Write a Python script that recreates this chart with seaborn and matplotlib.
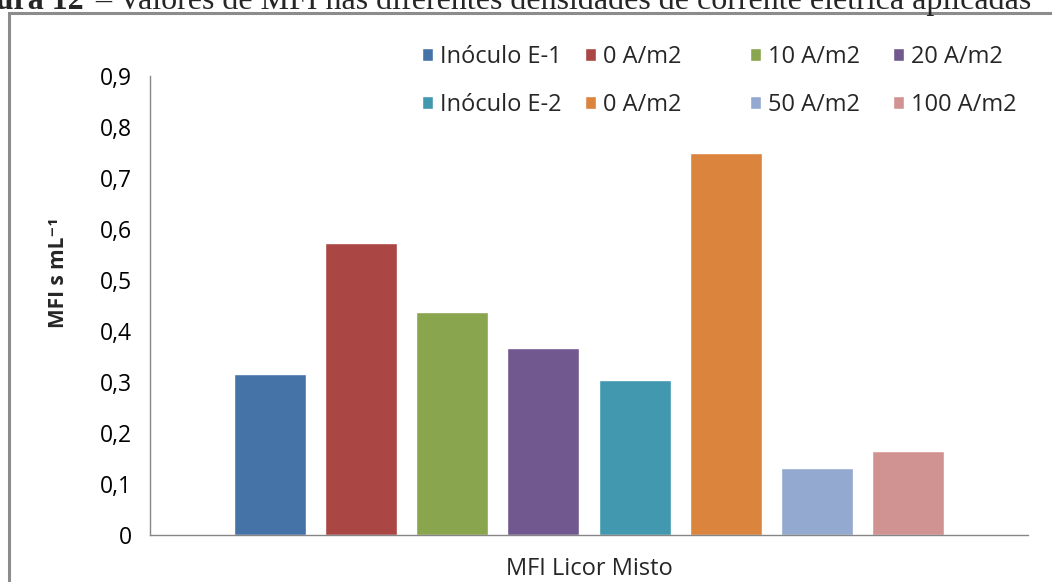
import matplotlib
matplotlib.use("Agg")
import matplotlib.pyplot as plt
from matplotlib.patches import Rectangle
from matplotlib.legend import Legend
from matplotlib.ticker import FuncFormatter
import pandas as pd
import seaborn as sns

# series keys (unique), legend labels and MFI values
series = ["Inóculo E-1", "0 A/m2 (E-1)", "10 A/m2", "20 A/m2",
          "Inóculo E-2", "0 A/m2 (E-2)", "50 A/m2", "100 A/m2"]
labels = ["Inóculo E-1", "0 A/m2", "10 A/m2", "20 A/m2",
          "Inóculo E-2", "0 A/m2", "50 A/m2", "100 A/m2"]
mfi = [0.316, 0.573, 0.437, 0.367, 0.304, 0.749, 0.131, 0.165]
colors = ["#4572A7", "#AA4643", "#89A54E", "#71588F",
          "#4198AF", "#DB843D", "#93A9CF", "#D19392"]

df = pd.DataFrame({"serie": series, "mfi": mfi})

sns.set_style("white")
plt.rcParams["font.family"] = ["Open Sans", "DejaVu Sans"]
FS = 17

fig = plt.figure(figsize=(10.52, 5.82), dpi=100)
W, H = 1052, 582
ax = fig.add_axes([150 / W, 1 - 535 / H, (1028 - 150) / W, (535 - 76) / H])

sns.barplot(data=df, x="serie", y="mfi", hue="serie", order=series,
            hue_order=series, palette=colors, width=0.79, legend=False,
            saturation=1, ax=ax)

ax.set_ylim(0, 0.9)
ax.set_xlim(-1.31, 8.31)
ax.set_yticks([i / 10 for i in range(10)])
ax.yaxis.set_major_formatter(FuncFormatter(
    lambda v, p: "0" if abs(v) < 1e-9 else f"{v:.1f}".replace(".", ",")))
ax.set_xticks([-1.31, 8.31])
ax.set_xticklabels(["", ""])
ax.tick_params(axis="both", direction="out", length=6, width=1,
               color="#868686", labelsize=FS - 0.5, labelcolor="black")
ax.tick_params(axis="y", pad=7)

for s in ["top", "right"]:
    ax.spines[s].set_visible(False)
for s in ["left", "bottom"]:
    ax.spines[s].set_color("#868686")
    ax.spines[s].set_linewidth(1)

ax.set_xlabel("MFI Licor Misto", fontsize=FS)
ax.xaxis.set_label_coords(0.5, -0.047)
ax.set_ylabel("MFI s mL⁻¹", fontsize=15, fontweight="bold")
ax.yaxis.set_label_coords(-0.092, 0.571)

# legend: four columns of two entries
handles = [c[0] for c in ax.containers]
col_x = [422, 585, 750, 893]
for j, x in enumerate(col_x):
    leg = Legend(ax, [handles[j], handles[j + 4]], [labels[j], labels[j + 4]],
                 loc="upper left", bbox_to_anchor=(x / W, 1 - 45 / H),
                 bbox_transform=fig.transFigure, frameon=False,
                 fontsize=FS, borderpad=0, borderaxespad=0,
                 handlelength=0.47, handleheight=0.47, handletextpad=0.3,
                 labelspacing=1.0)
    ax.add_artist(leg)

# chart frame
fig.patches.append(Rectangle((9 / W, -0.1), 1.2, 1.1 - 13 / H,
                             transform=fig.transFigure, fill=False,
                             edgecolor="#8c8c8c", linewidth=2.2))

# clipped caption at the top
fig.text(84 / W, 1 - 9 / H, "Figura 12", fontsize=23, fontweight="bold",
         family="Liberation Serif", ha="right", va="baseline")
fig.text(95 / W, 1 - 9 / H,
         "– Valores de MFI nas diferentes densidades de corrente elétrica aplicadas",
         fontsize=23, family="Liberation Serif", ha="left", va="baseline")

fig.savefig("out.png", dpi=100)
